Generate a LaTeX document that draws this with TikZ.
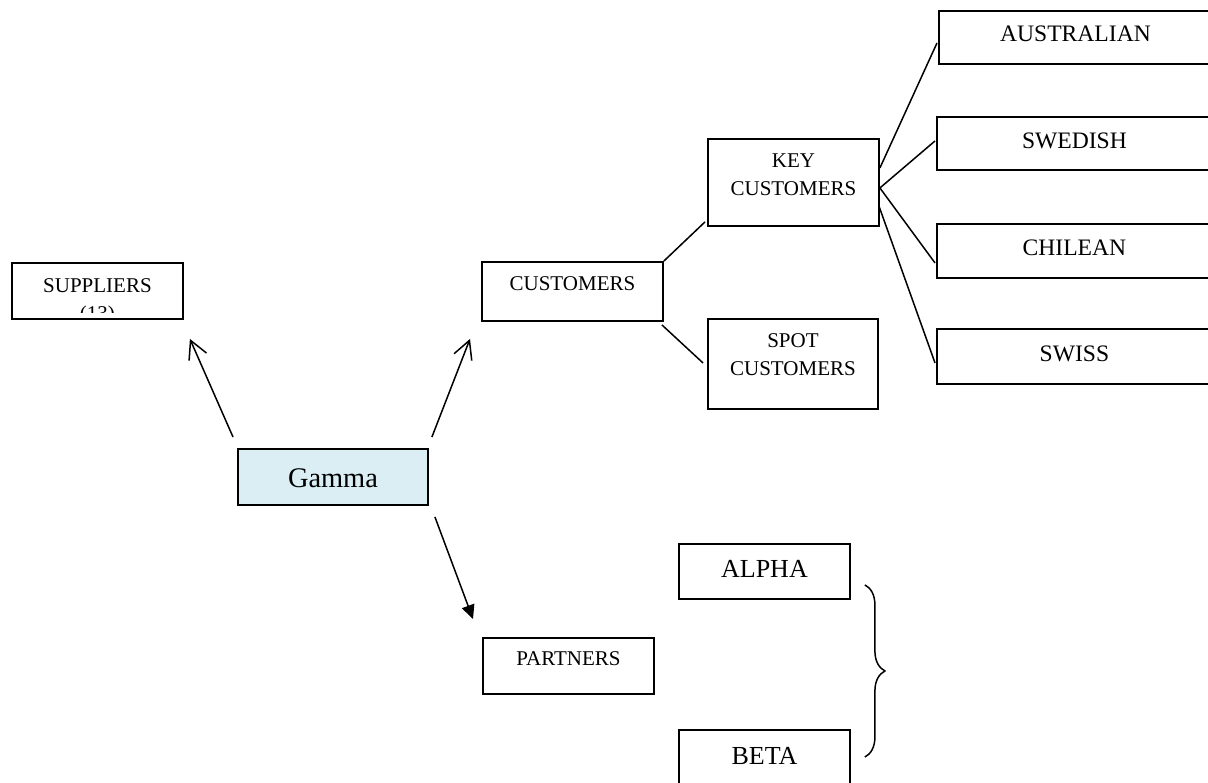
\documentclass[tikz,border=0pt]{standalone}
\usepackage{fontspec}
\setmainfont{Liberation Serif}
\usetikzlibrary{arrows.meta,decorations.pathreplacing}

\definecolor{fondgamma}{HTML}{DAEEF3}

\newcommand{\petit}{\fontsize{10.5}{14}\selectfont}
\newcommand{\moyen}{\fontsize{11.8}{15}\selectfont}
\newcommand{\grand}{\fontsize{13}{16}\selectfont}

\begin{document}
\begin{tikzpicture}[x=0.5pt,y=-0.5pt,
    boite/.style={draw,line width=0.95pt,inner sep=0pt,anchor=north west},
    trait/.style={line width=0.75pt},
    fleche/.style={trait,-{Straight Barb[length=9pt,width=9.5pt]}},
    flechepleine/.style={trait,-{Triangle[length=7pt,width=6.5pt]}}]

    % Cadre
    \useasboundingbox (0,0) rectangle (1208,782);
    \clip (0,0) rectangle (1208,782);

    % Boîtes
    \node[boite,fill=fondgamma,minimum width=95pt,text height=19.2pt,text depth=8.8pt,
          font=\fontsize{14.2}{17}\selectfont] (gamma) at (237,448) {Gamma};
    \node[boite,minimum width=85.5pt,text height=15pt,text depth=13pt,font=\petit] (sup) at (11,262) {SUPPLIERS};
    \node[boite,minimum width=90.5pt,text height=14.5pt,text depth=15pt,font=\petit] (cust) at (481,261) {CUSTOMERS};
    \node[boite,minimum width=85.5pt,text height=14.5pt,text depth=29pt,font=\petit] (key) at (707,138)
        {\begin{tabular}[t]{@{}c@{}}KEY\\CUSTOMERS\end{tabular}};
    \node[boite,minimum width=85pt,text height=14.5pt,text depth=30.5pt,font=\petit] (spot) at (707,318)
        {\begin{tabular}[t]{@{}c@{}}SPOT\\CUSTOMERS\end{tabular}};
    \node[boite,minimum width=85.5pt,text height=14pt,text depth=14pt,font=\petit] (part) at (482,637) {PARTNERS};

    % Pays
    \node[boite,minimum width=136.5pt,text height=15.4pt,text depth=11.1pt,font=\moyen] (aus) at (938,10) {AUSTRALIAN};
    \node[boite,minimum width=137.5pt,text height=15.9pt,text depth=10.6pt,font=\moyen] (swe) at (936,116) {SWEDISH};
    \node[boite,minimum width=137.5pt,text height=15.9pt,text depth=11.1pt,font=\moyen] (chi) at (936,223) {CHILEAN};
    \node[boite,minimum width=137.5pt,text height=16.4pt,text depth=11.1pt,font=\moyen] (swi) at (936,328) {SWISS};

    % Partenaires
    \node[boite,minimum width=85.5pt,text height=16.8pt,text depth=10.7pt,font=\grand] (alpha) at (678,543) {ALPHA};
    \node[boite,minimum width=85.5pt,text height=17.3pt,text depth=10.2pt,font=\grand] (beta) at (678,729) {BETA};

    % Deuxième ligne coupée par la boîte
    \begin{scope}
        \clip (sup.north west) rectangle ([yshift=3.5pt]sup.south east);
        \node[font=\petit,anchor=base,inner sep=0pt] (supnum) at ([yshift=-14pt]sup.base) {(13)};
    \end{scope}

    % Flèches depuis Gamma
    \draw[fleche] ([shift={(-4,-11)}]gamma.north west) -- ([shift={(6,19)}]sup.south east);
    \draw[fleche] ([shift={(3,-11)}]gamma.north east) -- ([shift={(-11,17)}]cust.south west);
    \draw[flechepleine] ([shift={(6,11)}]gamma.south east) -- ([shift={(-9,-18)}]part.north west);

    % Clients
    \draw[trait] (cust.north east) -- ([shift={(-2,-5)}]key.south west);
    \draw[trait] ([shift={(-2,3)}]cust.south east) -- ([shift={(-4,-1)}]spot.west);
    \draw[trait] ([shift={(0,-14.5)}]key.east) -- ([shift={(-1,5.5)}]aus.west);
    \draw[trait] ([shift={(0,5.5)}]key.east) -- ([shift={(-1,-2.5)}]swe.west);
    \draw[trait] ([shift={(0,5.5)}]key.east) -- ([shift={(-1,12)}]chi.west);
    \draw[trait] ([shift={(-1,23.5)}]key.east) -- ([shift={(-1,6.5)}]swi.west);

    % Accolade
    \draw[trait,decorate,decoration={brace,amplitude=10pt}]
        ([shift={(14,-15)}]alpha.south east) -- ([shift={(14,28)}]beta.north east);

\end{tikzpicture}
\end{document}
